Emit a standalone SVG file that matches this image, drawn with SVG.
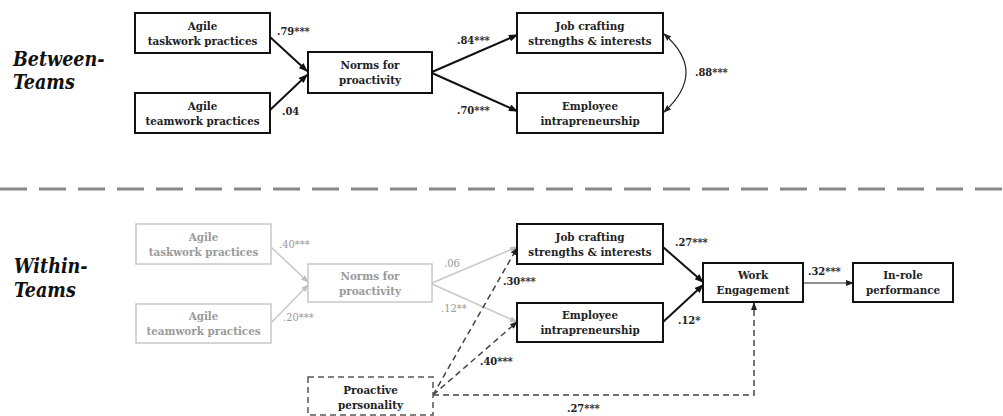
<svg xmlns="http://www.w3.org/2000/svg" width="1003" height="416" viewBox="0 0 1003 416" font-family="DejaVu Serif Condensed, DejaVu Serif, serif">
<style>
.bx{fill:#fff;stroke:#111;stroke-width:2}
.gbx{fill:#fff;stroke:#c8c8c8;stroke-width:1.5}
.dbx{fill:#fff;stroke:#555;stroke-width:1.5;stroke-dasharray:6,4}
.t{font-weight:bold;font-size:11.5px;fill:#222;text-anchor:middle}
.gt{font-weight:bold;font-size:11.5px;fill:#9a9a9a;text-anchor:middle}
.lb{font-weight:bold;font-size:11px;fill:#222}
.glb{font-size:11px;fill:#999}
.sec{font-weight:bold;font-style:italic;font-size:19.5px;fill:#111}
.ln{fill:none;stroke:#111;stroke-width:2}
.thin{fill:none;stroke:#222;stroke-width:1.2}
.gln{fill:none;stroke:#c8c8c8;stroke-width:1.5}
.dln{fill:none;stroke:#444;stroke-width:1.5;stroke-dasharray:6,4}
</style>
<defs>
<marker id="ah" markerUnits="userSpaceOnUse" markerWidth="9" markerHeight="7" refX="8" refY="3.5" orient="auto"><path d="M0,0 L9,3.5 L0,7 z" fill="#111"/></marker>
<marker id="ahs" markerUnits="userSpaceOnUse" markerWidth="8" markerHeight="6" refX="7" refY="3" orient="auto"><path d="M0,0 L8,3 L0,6 z" fill="#222"/></marker>
<marker id="ahs0" markerUnits="userSpaceOnUse" markerWidth="8" markerHeight="6" refX="1" refY="3" orient="auto"><path d="M8,0 L0,3 L8,6 z" fill="#222"/></marker>
<marker id="ahg" markerUnits="userSpaceOnUse" markerWidth="8" markerHeight="6" refX="7" refY="3" orient="auto"><path d="M0,0 L8,3 L0,6 z" fill="#c0c0c0"/></marker>
</defs>

<text class="sec" x="13" y="66">Between-</text>
<text class="sec" x="13" y="89">Teams</text>
<text class="sec" x="14" y="273">Within-</text>
<text class="sec" x="14" y="297">Teams</text>

<line x1="0" y1="189" x2="1003" y2="189" stroke="#888" stroke-width="3" stroke-dasharray="27,12"/>

<g id="connectors">
<line class="ln" x1="270" y1="37" x2="307" y2="71" marker-end="url(#ah)"/>
<line class="ln" x1="270" y1="110" x2="307" y2="75" marker-end="url(#ah)"/>
<line class="ln" x1="432" y1="72" x2="517" y2="35" marker-end="url(#ah)"/>
<line class="ln" x1="432" y1="73" x2="517" y2="111" marker-end="url(#ah)"/>
<path class="thin" d="M664,34 Q708,72 664,112" marker-start="url(#ahs0)" marker-end="url(#ahs)"/>

<line class="gln" x1="271" y1="247" x2="308" y2="282" marker-end="url(#ahg)"/>
<line class="gln" x1="271" y1="323" x2="308" y2="285" marker-end="url(#ahg)"/>
<line class="gln" x1="432" y1="283" x2="517" y2="247" marker-end="url(#ahg)"/>
<line class="gln" x1="432" y1="284" x2="517" y2="322" marker-end="url(#ahg)"/>

<line class="dln" x1="433" y1="395" x2="517" y2="248" marker-end="url(#ahs)"/>
<line class="dln" x1="433" y1="395" x2="517" y2="322" marker-end="url(#ahs)"/>
<path class="dln" d="M433,395 L754,395 L754,303" marker-end="url(#ahs)"/>

<line class="ln" x1="663" y1="247" x2="703" y2="282" marker-end="url(#ah)"/>
<line class="ln" x1="663" y1="322" x2="703" y2="285" marker-end="url(#ah)"/>
<line class="thin" x1="803" y1="283" x2="853" y2="283" marker-end="url(#ahs)"/>

<text class="lb" x="277" y="35">.79***</text>
<text class="lb" x="282" y="115">.04</text>
<text class="lb" x="457" y="44">.84***</text>
<text class="lb" x="457" y="114">.70***</text>
<text class="lb" x="695" y="76">.88***</text>

<text class="glb" x="279" y="248">.40***</text>
<text class="glb" x="283" y="321">.20***</text>
<text class="glb" x="444" y="267">.06</text>
<text class="glb" x="441" y="312">.12**</text>
<text class="lb" x="503" y="285">.30***</text>
<text class="lb" x="480" y="365">.40***</text>
<text class="lb" x="675" y="246">.27***</text>
<text class="lb" x="678" y="324">.12*</text>
<text class="lb" x="808" y="275">.32***</text>
<text class="lb" x="567" y="412">.27***</text>
</g>

<g id="b-taskwork"><rect class="bx" x="135" y="13" width="135" height="40"/><text class="t" x="202.5" y="30">Agile</text><text class="t" x="202.5" y="45">taskwork practices</text></g>
<g id="b-teamwork"><rect class="bx" x="135" y="93" width="135" height="40"/><text class="t" x="202.5" y="110">Agile</text><text class="t" x="202.5" y="125">teamwork practices</text></g>
<g id="b-norms"><rect class="bx" x="308" y="52" width="124" height="41"/><text class="t" x="370" y="69">Norms for</text><text class="t" x="370" y="84">proactivity</text></g>
<g id="b-jobcrafting"><rect class="bx" x="517" y="13" width="146" height="40"/><text class="t" x="590" y="30">Job crafting</text><text class="t" x="590" y="45">strengths &amp; interests</text></g>
<g id="b-intrap"><rect class="bx" x="517" y="93" width="146" height="40"/><text class="t" x="590" y="110">Employee</text><text class="t" x="590" y="125">intrapreneurship</text></g>

<g id="w-taskwork"><rect class="gbx" x="136" y="224" width="135" height="40"/><text class="gt" x="203.5" y="241">Agile</text><text class="gt" x="203.5" y="256">taskwork practices</text></g>
<g id="w-teamwork"><rect class="gbx" x="136" y="304" width="135" height="39"/><text class="gt" x="203.5" y="320">Agile</text><text class="gt" x="203.5" y="335">teamwork practices</text></g>
<g id="w-norms"><rect class="gbx" x="308" y="264" width="124" height="38"/><text class="gt" x="370" y="280">Norms for</text><text class="gt" x="370" y="295">proactivity</text></g>
<g id="w-jobcrafting"><rect class="bx" x="517" y="224" width="146" height="40"/><text class="t" x="590" y="241">Job crafting</text><text class="t" x="590" y="256">strengths &amp; interests</text></g>
<g id="w-intrap"><rect class="bx" x="517" y="303" width="146" height="39"/><text class="t" x="590" y="319">Employee</text><text class="t" x="590" y="334">intrapreneurship</text></g>
<g id="w-proactive"><rect class="dbx" x="308" y="377" width="125" height="38"/><text class="t" x="370.5" y="394">Proactive</text><text class="t" x="370.5" y="409">personality</text></g>
<g id="w-engagement"><rect class="bx" x="703" y="263" width="100" height="39"/><text class="t" x="753" y="279">Work</text><text class="t" x="753" y="294">Engagement</text></g>
<g id="w-inrole"><rect class="bx" x="853" y="263" width="100" height="39"/><text class="t" x="903" y="279">In-role</text><text class="t" x="903" y="294">performance</text></g>
</svg>
